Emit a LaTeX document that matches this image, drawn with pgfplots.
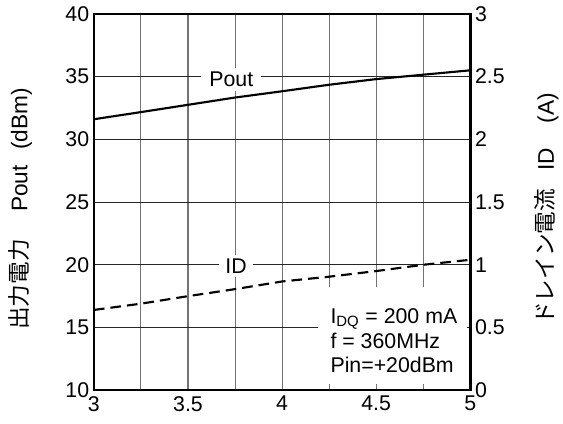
\documentclass[border=0pt]{standalone}
\usepackage{pgfplots}
\pgfplotsset{compat=1.18}
\usepackage{fontspec}
\setmainfont{Liberation Sans}
\newfontfamily\jp{Noto Sans CJK JP}
\pgfplotstableread{
x pout
3.00 31.60
3.25 32.17
3.50 32.75
3.75 33.33
4.00 33.83
4.25 34.35
4.50 34.80
4.75 35.15
5.00 35.50
}\poutdata
\pgfplotstableread{
x id
3.00 0.640
3.25 0.690
3.50 0.750
3.75 0.806
4.00 0.867
4.25 0.905
4.50 0.950
4.75 1.000
5.00 1.040
}\iddata
\begin{document}
\begin{tikzpicture}
\pgfplotsset{
  base/.style={
    width=282.6pt, height=282.6pt, scale only axis,
    xmin=3, xmax=5,
    major tick length=0pt, minor tick length=0pt,
    /pgf/number format/assume math mode=true,
    tick label style={font=\fontsize{16}{19}\selectfont},
    label style={font=\fontsize{17}{20}\selectfont},
    axis line style={line width=1.8pt},
  },
}
\begin{axis}[base, name=main,
  ymin=10, ymax=40, ytick={10,15,...,40},
  xtick={3,3.5,4,4.5,5}, minor xtick={3.25,3.75,4.25,4.75},
  xmajorgrids, xminorgrids, ymajorgrids,
  major x grid style={black!55, line width=0.8pt},
  minor x grid style={black!55, line width=0.8pt},
  major y grid style={black!85, line width=0.6pt},
  xticklabel style={yshift=-1pt},
  ylabel={{\jp 出力電力}\hspace{1.2em}Pout\hspace{0.7em}(dBm)},
  ylabel style={at={(axis description cs:-0.196,0.482)}, anchor=center},
]
\fill[white] (axis cs:4.19,10.53) rectangle (axis cs:4.98,18.19);
\addplot[black, line width=1.6pt] table[x=x, y=pout] {\poutdata};
\node[fill=white, inner xsep=6pt, inner ysep=3pt, font=\fontsize{16}{19}\selectfont, yshift=-2pt] at (axis cs:3.73,35) {Pout};
\node[fill=white, inner xsep=5pt, inner ysep=3pt, font=\fontsize{16}{19}\selectfont, yshift=-1pt] at (axis cs:3.755,20) {ID};
\node[anchor=base west, inner sep=0pt, font=\fontsize{16}{19}\selectfont] at (axis cs:4.256,15.32) {I\textsubscript{DQ} = 200 mA};
\node[anchor=base west, inner sep=0pt, font=\fontsize{16}{19}\selectfont] at (axis cs:4.256,13.33) {f = 360MHz};
\node[anchor=base west, inner sep=0pt, font=\fontsize{16}{19}\selectfont] at (axis cs:4.256,11.41) {Pin=+20dBm};
\end{axis}
\begin{axis}[base,
  ymin=0, ymax=3, ytick={0,0.5,...,3},
  axis x line=none, axis y line*=right,
  /pgf/number format/fixed,
  ylabel={{\jp ドレイン電流}\hspace{0.8em}ID\hspace{1.1em}(A)},
  ylabel style={at={(axis description cs:1.203,0.482)}, anchor=center, rotate=0},
]
\addplot[black, line width=1.6pt, dash pattern=on 8pt off 4.5pt] table[x=x, y=id] {\iddata};
\end{axis}
\path (main.south west) ++(-70.5pt,-25pt) rectangle ++(422.25pt,318pt);
\end{tikzpicture}
\end{document}
